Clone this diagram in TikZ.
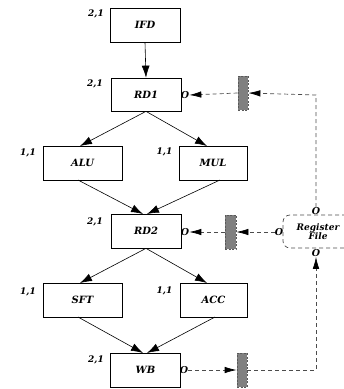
\documentclass[tikz,border=0pt]{standalone}
\usepackage{fontspec}
\setmainfont{DejaVu Serif}
\usetikzlibrary{arrows.meta}
\begin{document}
\begin{tikzpicture}[x=1pt,y=-1pt,
  box/.style={draw, line width=0.7pt, minimum height=34pt, inner sep=0pt, font=\fontsize{10}{12}\selectfont\bfseries\itshape},
  lbl/.style={inner sep=0pt, font=\fontsize{9}{11}\selectfont\bfseries\itshape},
  port/.style={inner sep=0pt, font=\fontsize{9.5}{11}\selectfont\bfseries\itshape},
  latch/.style={draw=black!65, fill=black!50, dash pattern=on 2pt off 1.5pt, line width=0.7pt, minimum width=10pt, minimum height=34pt, inner sep=0pt},
  solidarrow/.style={line width=0.6pt, -{Latex[length=12pt,width=8pt]}},
  dasharrow/.style={line width=0.7pt, draw=black!70, dash pattern=on 4pt off 3pt, -{Latex[length=12pt,width=6.5pt,fill=black,color=black]}},
  ]
\useasboundingbox (0,0) rectangle (344,389);
% boxes
\node[box, minimum width=70pt] (IFD) at (145,25) {IFD};
\node[box, minimum width=70pt, minimum height=33pt] (RD1) at (146,94.5) {RD1};
\node[box, minimum width=79pt] (ALU) at (82.5,163) {ALU};
\node[box, minimum width=68pt] (MUL) at (213,163) {MUL};
\node[box, minimum width=70pt] (RD2) at (146,231) {RD2};
\node[box, minimum width=79pt] (SFT) at (82.5,300) {SFT};
\node[box, minimum width=67pt] (ACC) at (213.5,300) {ACC};
\node[box, minimum width=70pt] (WB) at (145.5,370) {WB};
% labels
\node[lbl] (lIFD) at (96,14) {2,1};
\node[lbl] (lRD1) at (95,84) {2,1};
\node[lbl] (lALU) at (28,153) {1,1};
\node[lbl] (lMUL) at (164.5,152) {1,1};
\node[lbl] (lRD2) at (95,222) {2,1};
\node[lbl] (lSFT) at (28,292) {1,1};
\node[lbl] (lACC) at (164.5,291) {1,1};
\node[lbl] (lWB) at (96,360) {2,1};
% solid edges
\draw[solidarrow] (IFD.south) -- (RD1.north);
\draw[solidarrow] (RD1.south) -- (80,146);
\draw[solidarrow] (RD1.south) -- (207,146);
\draw[solidarrow] (78,180) -- (143,214);
\draw[solidarrow] (220,180) -- (147,214);
\draw[solidarrow] (RD2.south) -- (80,283);
\draw[solidarrow] (RD2.south) -- (207,283);
\draw[solidarrow] (78,317) -- (143,353);
\draw[solidarrow] (215,317) -- (147,353);
% register file
\node[draw=black!70, line width=0.7pt, dash pattern=on 4pt off 3pt, rounded corners=7pt, minimum width=70pt, minimum height=33pt, inner sep=0pt, align=center, font=\fontsize{9}{9}\selectfont\bfseries\itshape] (RF) at (318,231.5) {Register\\File};
% ports
\node[port] (oRD1) at (185,95) {O};
\node[port] (oRD2) at (185,232) {O};
\node[port] (oWB) at (184,370) {O};
\node[port] (oRFt) at (316,211) {O};
\node[port] (oRFb) at (316,253) {O};
\node[port] (oRFl) at (279,232) {O};
% latches
\node[latch] (g1) at (243,93) {};
\node[latch, minimum width=11pt] (g2) at (230.5,232) {};
\node[latch] (g3) at (242,370) {};
% dashed connections
\coordinate (c1) at (316,95);
\coordinate (c3) at (316,370);
\draw[dasharrow] (oRFt.north) -- (c1) -- (g1.east);
\draw[dasharrow] (g1.west) -- (oRD1.east);
\draw[dasharrow] (oRFl.west) -- (g2.east);
\draw[dasharrow] (g2.west) -- (oRD2.east);
\draw[dasharrow] (oWB.east) -- (g3.west);
\draw[dasharrow] (g3.east) -- (c3) -- (oRFb.south);
\end{tikzpicture}
\end{document}
